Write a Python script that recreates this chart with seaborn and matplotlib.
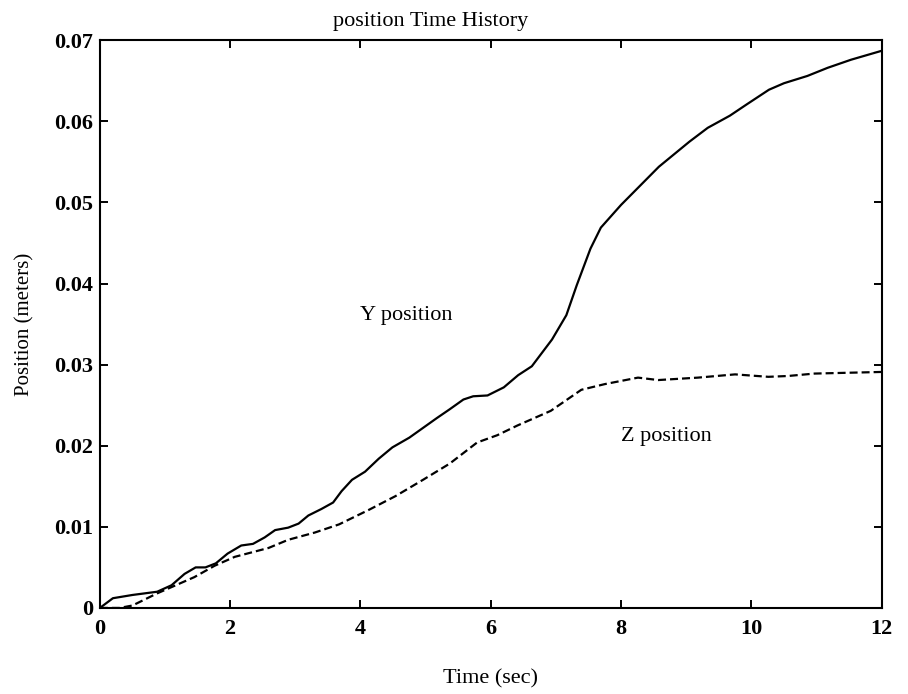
import numpy as np
import pandas as pd
import matplotlib
matplotlib.use("Agg")
import matplotlib.pyplot as plt
import seaborn as sns

# ---- data ----
t_y = [0, 0.2, 0.5, 0.88, 1.1, 1.3, 1.47, 1.62, 1.78, 1.96, 2.17, 2.35, 2.53, 2.69,
       2.89, 3.05, 3.2, 3.4, 3.58, 3.71, 3.87, 4.07, 4.28, 4.49, 4.75, 4.96, 5.17,
       5.37, 5.58, 5.73, 5.95, 6.2, 6.42, 6.63, 6.94, 7.16, 7.32, 7.53, 7.69, 8.0,
       8.58, 9.05, 9.33, 9.67, 9.93, 10.27, 10.5, 10.86, 11.17, 11.53, 12.0]
y_pos = [0, 0.0012, 0.0016, 0.0020, 0.0028, 0.0042, 0.0050, 0.0050, 0.0055, 0.0067,
         0.0077, 0.0079, 0.0087, 0.0096, 0.0099, 0.0104, 0.0114, 0.0122, 0.0130,
         0.0144, 0.0158, 0.0168, 0.0184, 0.0198, 0.0210, 0.0222, 0.0234, 0.0245,
         0.0257, 0.0261, 0.0262, 0.0272, 0.0287, 0.0298, 0.0331, 0.0361, 0.0398,
         0.0443, 0.0469, 0.0497, 0.0544, 0.0575, 0.0592, 0.0607, 0.0621, 0.0639,
         0.0647, 0.0656, 0.0666, 0.0676, 0.0687]

t_z = [0, 0.3, 0.5, 0.88, 1.45, 1.76, 2.07, 2.59, 2.89, 3.3, 3.67, 4.13, 4.54, 4.96,
       5.37, 5.79, 6.1, 6.41, 6.92, 7.39, 7.75, 8.26, 8.57, 9.18, 9.75, 10.26,
       10.56, 10.97, 12.0]
z_pos = [0, 0.0, 0.0003, 0.0018, 0.0038, 0.0052, 0.0063, 0.0074, 0.0084, 0.0093,
         0.0103, 0.0121, 0.0138, 0.0158, 0.0178, 0.0204, 0.0213, 0.0225, 0.0243,
         0.0269, 0.0276, 0.0284, 0.0281, 0.0284, 0.0288, 0.0285, 0.0286, 0.0289,
         0.0291]

x_ticks = [0, 2, 4, 6, 8, 10, 12]
x_tick_labels = ["0", "2", "4", "6", "8", "10", "12"]
y_ticks = [0, 0.01, 0.02, 0.03, 0.04, 0.05, 0.06, 0.07]
y_tick_labels = ["0", "0.01", "0.02", "0.03", "0.04", "0.05", "0.06", "0.07"]

title = "position Time History"
x_label = "Time (sec)"
y_label = "Position (meters)"
annotations = [("Y position", 4.7, 0.036), ("Z position", 8.7, 0.0212)]

# ---- style ----
sns.set_style("ticks")
plt.rcParams['font.family'] = ['Liberation Serif', 'DejaVu Serif']
plt.rcParams['text.color'] = 'black'
plt.rcParams['axes.labelcolor'] = 'black'
plt.rcParams['xtick.color'] = 'black'
plt.rcParams['ytick.color'] = 'black'
plt.rcParams['axes.edgecolor'] = 'black'

fig = plt.figure(figsize=(9.08, 6.94), dpi=100)
ax = fig.add_axes([0.110, 0.124, 0.861, 0.818])

df_y = pd.DataFrame({"t": t_y, "pos": y_pos})
df_z = pd.DataFrame({"t": t_z, "pos": z_pos})

sns.lineplot(data=df_y, x="t", y="pos", color="black", linewidth=1.6,
             estimator=None, sort=False, ax=ax)
sns.lineplot(data=df_z, x="t", y="pos", color="black", linewidth=1.6,
             estimator=None, sort=False, ax=ax)
ax.lines[-1].set_linestyle((0, (3.6, 1.8)))

ax.set_xlim(0, 12)
ax.set_ylim(0, 0.07)
ax.set_xticks(x_ticks)
ax.set_xticklabels(x_tick_labels, fontweight="bold", fontsize=16)
ax.set_yticks(y_ticks)
ax.set_yticklabels(y_tick_labels, fontweight="bold", fontsize=16)
ax.tick_params(direction="in", length=6, width=1.4, top=True, right=True,
               colors="black")
ax.tick_params(axis="x", pad=8)
ax.tick_params(axis="y", pad=5)

for sp in ax.spines.values():
    sp.set_linewidth(1.5)
    sp.set_color("black")

ax.set_title(title, fontsize=16, x=0.423, pad=10, color="black")
ax.set_xlabel(x_label, fontsize=16, labelpad=22, color="black")
ax.set_ylabel(y_label, fontsize=15, labelpad=14, color="black")

for txt, tx, ty in annotations:
    ax.text(tx, ty, txt, fontsize=16, ha="center", va="center", color="black")

fig.savefig("out.png", dpi=100, facecolor="white")
